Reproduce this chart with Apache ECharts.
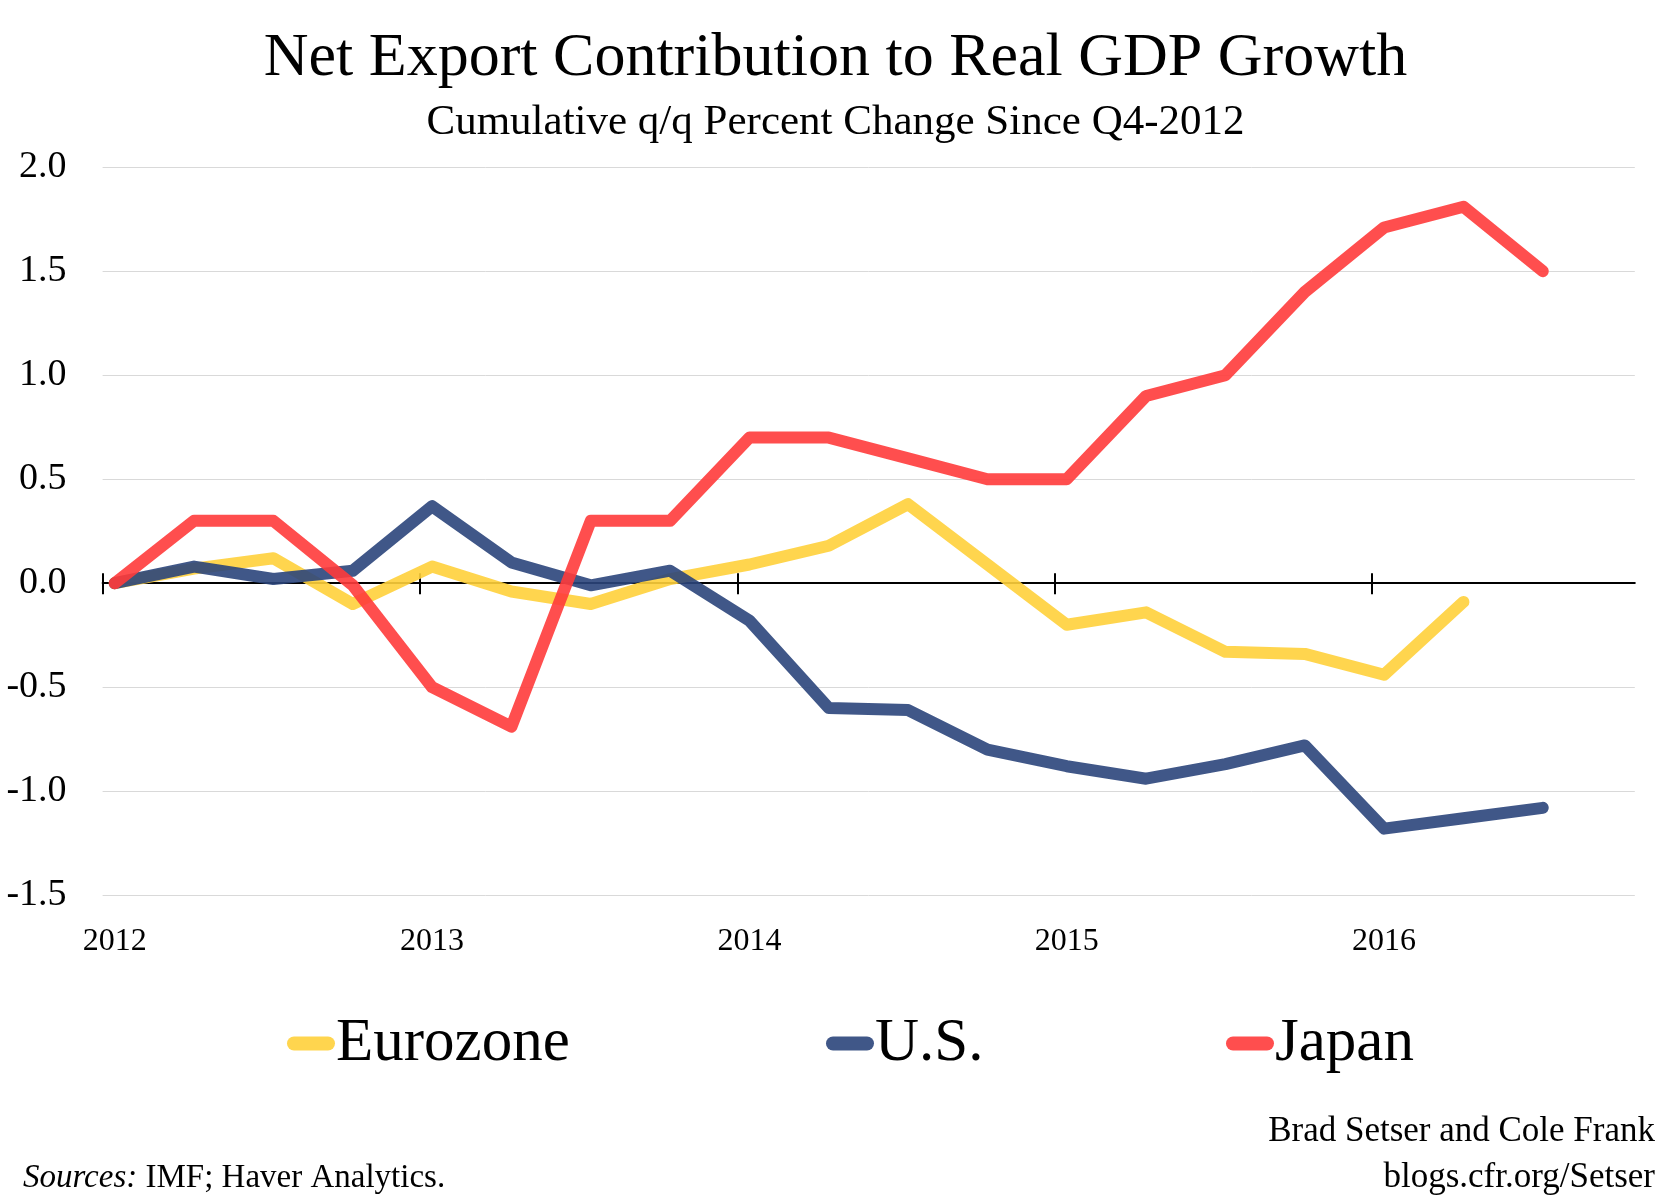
<!DOCTYPE html>
<html>
<head>
<meta charset="utf-8">
<script src="https://cdn.jsdelivr.net/npm/echarts@6/dist/echarts.min.js"></script>
<style>
html,body{margin:0;padding:0;background:#fff;}
#chart{width:1671px;height:1204px;}
</style>
</head>
<body>
<div id="chart"></div>
<script>
// ---- data ----
const quarters = ['Q4-2012','Q1-2013','Q2-2013','Q3-2013','Q4-2013','Q1-2014','Q2-2014','Q3-2014','Q4-2014',
  'Q1-2015','Q2-2015','Q3-2015','Q4-2015','Q1-2016','Q2-2016','Q3-2016','Q4-2016','Q1-2017','Q2-2017'];
const yearLabels = ['2012','2013','2014','2015','2016'];
const yearIndex = [0, 4, 8, 12, 16];
const yTicks = [-1.5, -1.0, -0.5, 0.0, 0.5, 1.0, 1.5, 2.0];
const eurozone = [0, 0.07, 0.12, -0.1, 0.08, -0.04, -0.1, 0.02, 0.09, 0.18, 0.38, 0.09, -0.2, -0.14, -0.33, -0.34, -0.44, -0.09, null];
const us = [0, 0.08, 0.02, 0.06, 0.37, 0.1, -0.01, 0.06, -0.18, -0.6, -0.61, -0.8, -0.88, -0.94, -0.87, -0.78, -1.18, -1.13, -1.08];
const japan = [0, 0.3, 0.3, -0.01, -0.5, -0.69, 0.3, 0.3, 0.7, 0.7, 0.6, 0.5, 0.5, 0.9, 1.0, 1.4, 1.71, 1.81, 1.5];
const seriesNames = ['Eurozone', 'U.S.', 'Japan'];

// ---- layout / style ----
const FONT = "'Liberation Serif', 'DejaVu Serif', serif";
const colors = ['rgba(255,208,59,0.9)', 'rgba(43,69,123,0.9)', 'rgba(255,59,59,0.9)'];
const xMin = -0.153, xMax = 19.16, tickShift = 0.153;
const tickValues = yearIndex.map(i => i - tickShift);

function pairs(arr) {
  const out = [];
  arr.forEach((v, i) => { if (v !== null) out.push([i, v]); });
  return out;
}
const allSeries = [eurozone, us, japan];

const chart = echarts.init(document.getElementById('chart'), null, {renderer: 'canvas'});
const legendLefts = [282, 821, 1221];

const option = {
  animation: false,
  backgroundColor: '#ffffff',
  textStyle: {fontFamily: FONT},
  grid: {left: 102.6, right: 36.2, top: 167.2, bottom: 308.8, containLabel: false, outerBoundsMode: 'none'},
  legend: seriesNames.map((n, k) => ({
    data: [n],
    left: legendLefts[k],
    top: 1008,
    itemWidth: 48,
    itemHeight: 14,
    itemGap: 0,
    icon: 'path://M7,0 L41,0 A7,7 0 0 1 41,14 L7,14 A7,7 0 0 1 7,0 Z',
    textStyle: {fontFamily: FONT, fontSize: 61, color: '#000', padding: [0,0,0,-4]},
    selectedMode: false
  })),
  xAxis: [
    {
      type: 'value', min: xMin, max: xMax, position: 'bottom',
      axisLine: {show: true, onZero: true, onZeroAxisIndex: 0, lineStyle: {color: '#000', width: 2}},
      axisTick: {show: true, inside: false, length: 11, customValues: tickValues, lineStyle: {color: '#000', width: 2}},
      axisLabel: {show: false},
      splitLine: {show: false}
    },
    {
      type: 'value', min: xMin, max: xMax, position: 'bottom',
      axisLine: {show: false, onZero: true, onZeroAxisIndex: 0},
      axisTick: {show: true, inside: true, length: 10, customValues: tickValues, lineStyle: {color: '#000', width: 2}},
      axisLabel: {show: false},
      splitLine: {show: false}
    },
    {
      type: 'value', min: xMin, max: xMax, position: 'bottom',
      axisLine: {show: false, onZero: false},
      axisTick: {show: false},
      axisLabel: {
        show: true, customValues: yearIndex, margin: 30,
        fontFamily: FONT, fontSize: 32, color: '#000',
        formatter: v => yearLabels[yearIndex.indexOf(Math.round(v))] || ''
      },
      splitLine: {show: false}
    }
  ],
  yAxis: {
    type: 'value', min: -1.5, max: 2.0, interval: 0.5,
    axisLine: {show: false}, axisTick: {show: false},
    axisLabel: {fontFamily: FONT, fontSize: 38, color: '#000', margin: 36, formatter: v => v.toFixed(1)},
    splitLine: {show: true, lineStyle: {color: '#d9d9d9', width: 1}}
  },
  series: seriesNames.map((n, k) => ({
    name: n, type: 'line', xAxisIndex: 0,
    data: pairs(allSeries[k]),
    showSymbol: false, symbol: 'none',
    color: colors[k],
    lineStyle: {width: 12, color: colors[k], cap: 'round', join: 'round'},
    emphasis: {disabled: true},
    z: 3 + k
  })),
  graphic: [
    {type: 'text', x: 835.5, y: 59, style: {text: 'Net Export Contribution to Real GDP Growth', font: "62px " + FONT, fill: '#000', textAlign: 'center', textVerticalAlign: 'middle', align: 'center', verticalAlign: 'middle'}},
    {type: 'text', x: 835.5, y: 123, style: {text: 'Cumulative q/q Percent Change Since Q4-2012', font: "43px " + FONT, fill: '#000', textAlign: 'center', textVerticalAlign: 'middle', align: 'center', verticalAlign: 'middle'}},
    {type: 'text', x: 1655, y: 1132, style: {text: 'Brad Setser and Cole Frank', font: "35px " + FONT, fill: '#000', textAlign: 'right', textVerticalAlign: 'middle', align: 'right', verticalAlign: 'middle'}},
    {type: 'text', x: 1655, y: 1178, style: {text: 'blogs.cfr.org/Setser', font: "35px " + FONT, fill: '#000', textAlign: 'right', textVerticalAlign: 'middle', align: 'right', verticalAlign: 'middle'}},
    {type: 'text', x: 23, y: 1178, style: {
      text: '{i|Sources:} IMF; Haver Analytics.', font: "33px " + FONT, fill: '#000',
      textAlign: 'left', textVerticalAlign: 'middle', align: 'left', verticalAlign: 'middle',
      rich: {i: {fontStyle: 'italic', fontFamily: FONT, fontSize: 33, fill: '#000'}}
    }}
  ]
};
chart.setOption(option);
</script>
</body>
</html>
